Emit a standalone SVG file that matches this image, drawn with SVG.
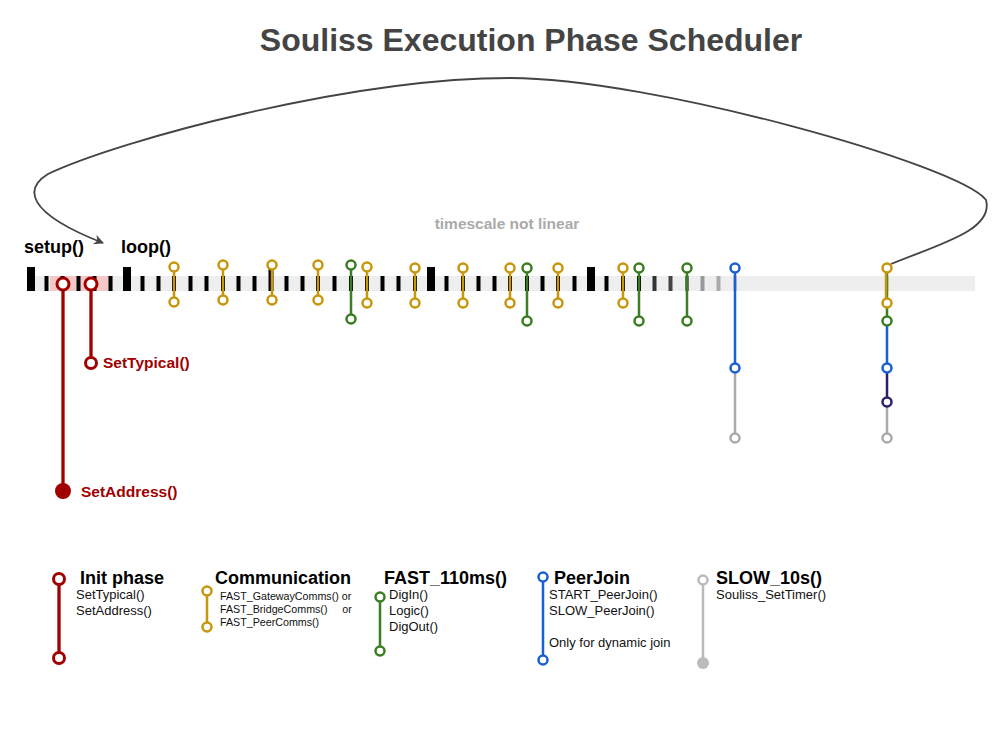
<svg xmlns="http://www.w3.org/2000/svg" width="1004" height="752" viewBox="0 0 1004 752">
<defs>
<marker id="arr" viewBox="0 0 10 10" refX="9" refY="5" markerWidth="10" markerHeight="10" markerUnits="userSpaceOnUse" orient="auto">
<path d="M0,0 L10,5 L0,10 L3,5 Z" fill="#444"/>
</marker>
<style>
text{font-family:"Liberation Sans",Arial,sans-serif}
.title{font-size:32px;font-weight:bold;fill:#444}
.ts{font-size:15.5px;font-weight:bold;fill:#aaa}
.lbl{font-size:18px;font-weight:bold;fill:#000}
.red-lbl{font-size:15.5px;font-weight:bold;fill:#a00000}
.sm{font-size:13px;fill:#111}
.xs{font-size:10.7px;fill:#111}
.t{fill:#000}
.red{stroke:#a00000}
.gold{stroke:#c8960c}
.green{stroke:#3b7d23}
.blue{stroke:#1a5fd4}
.purple{stroke:#2e1f6b}
.grey{stroke:#aaa}
.ln{stroke-width:2.5;fill:none}
.c{fill:#fff;stroke-width:2.5}
</style>
</defs>
<rect width="1004" height="752" fill="#fff"/>
<text class="title" x="531" y="51" text-anchor="middle">Souliss Execution Phase Scheduler</text>
<text class="ts" x="507" y="229" text-anchor="middle">timescale not linear</text>

<g id="timeline">
<rect x="28" y="276" width="947" height="15" fill="#eee"/>
<rect x="50" y="276" width="63" height="15" fill="#f5c8c8"/>
<g class="t">
<rect x="27" y="267" width="8" height="24"/>
<rect x="44.5" y="276" width="4" height="15"/>
<rect x="60.5" y="276" width="4" height="15"/>
<rect x="76.5" y="276" width="4" height="15"/>
<rect x="92.5" y="276" width="4" height="15"/>
<rect x="108.5" y="276" width="4" height="15"/>
<rect x="123" y="267" width="8" height="24"/>
<rect x="140.5" y="276" width="4" height="15"/>
<rect x="156.5" y="276" width="4" height="15"/>
<rect x="172" y="276" width="4" height="15"/>
<rect x="188.5" y="276" width="4" height="15"/>
<rect x="204.5" y="276" width="4" height="15"/>
<rect x="221" y="276" width="4" height="15"/>
<rect x="236.5" y="276" width="4" height="15"/>
<rect x="252.5" y="276" width="4" height="15"/>
<rect x="268.5" y="267" width="5" height="24"/>
<rect x="284.5" y="276" width="4" height="15"/>
<rect x="300.5" y="276" width="4" height="15"/>
<rect x="316" y="276" width="4" height="15"/>
<rect x="332.5" y="276" width="4" height="15"/>
<rect x="349" y="276" width="4" height="15"/>
<rect x="365" y="276" width="4" height="15"/>
<rect x="380.5" y="276" width="4" height="15"/>
<rect x="396.5" y="276" width="4" height="15"/>
<rect x="413" y="276" width="4" height="15"/>
<rect x="427" y="267" width="8" height="24"/>
<rect x="444.5" y="276" width="4" height="15"/>
<rect x="461" y="276" width="4" height="15"/>
<rect x="476.5" y="276" width="4" height="15"/>
<rect x="492.5" y="276" width="4" height="15"/>
<rect x="508" y="276" width="4" height="15"/>
<rect x="525" y="276" width="4" height="15"/>
<rect x="540.5" y="276" width="4" height="15"/>
<rect x="556" y="276" width="4" height="15"/>
<rect x="572.5" y="276" width="4" height="15"/>
<rect x="587" y="267" width="8" height="24"/>
<rect x="604.5" y="276" width="4" height="15"/>
<rect x="621" y="276" width="4" height="15"/>
<rect x="637" y="276" width="4" height="15"/>
</g>
<rect x="652.5" y="276" width="4" height="15" fill="#333"/>
<rect x="668.5" y="276" width="4" height="15" fill="#444"/>
<rect x="685" y="276" width="4" height="15" fill="#777"/>
<rect x="700.5" y="276" width="4" height="15" fill="#999"/>
<rect x="716.5" y="276" width="4" height="15" fill="#aaa"/>
<rect x="733" y="276" width="4" height="15" fill="#ccc"/>
<rect x="885" y="276" width="4" height="15" fill="#ddd"/>
<text class="lbl" x="24" y="253">setup()</text>
<text class="lbl" x="121" y="253">loop()</text>
</g>

<g id="connectors">
<path d="M891,264 C940,244 994,230 986,200 C960,165 650,78 510,78 C350,78 120,140 48,174 C25,188 24,212 103,243" fill="none" stroke="#444" stroke-width="1.8" marker-end="url(#arr)"/>
</g>

<g id="init-phase">
<line x1="63" y1="284" x2="63" y2="491" class="red" stroke-width="3.3"/>
<line x1="91" y1="284" x2="91" y2="363" class="red" stroke-width="3.3"/>
<circle cx="63" cy="284" r="6" class="red" fill="#fff" stroke-width="3"/>
<circle cx="91" cy="284" r="6" class="red" fill="#fff" stroke-width="3"/>
<circle cx="91" cy="363" r="5.5" class="red" fill="#fff" stroke-width="3"/>
<circle cx="63" cy="491" r="8" fill="#a00000"/>
<text class="red-lbl" x="103" y="368">SetTypical()</text>
<text class="red-lbl" x="81" y="497">SetAddress()</text>
</g>

<g id="comm-markers" class="gold">
<line class="ln" x1="174" y1="267" x2="174" y2="302"/><circle class="c" cx="174" cy="267" r="4.5"/><circle class="c" cx="174" cy="302" r="4.5"/>
<line class="ln" x1="223" y1="265" x2="223" y2="300"/><circle class="c" cx="223" cy="265" r="4.5"/><circle class="c" cx="223" cy="300" r="4.5"/>
<line class="ln" x1="272" y1="265" x2="272" y2="300"/><circle class="c" cx="272" cy="265" r="4.5"/><circle class="c" cx="272" cy="300" r="4.5"/>
<line class="ln" x1="318" y1="265" x2="318" y2="300"/><circle class="c" cx="318" cy="265" r="4.5"/><circle class="c" cx="318" cy="300" r="4.5"/>
<line class="ln" x1="367" y1="267" x2="367" y2="303"/><circle class="c" cx="367" cy="267" r="4.5"/><circle class="c" cx="367" cy="303" r="4.5"/>
<line class="ln" x1="415" y1="268" x2="415" y2="303"/><circle class="c" cx="415" cy="268" r="4.5"/><circle class="c" cx="415" cy="303" r="4.5"/>
<line class="ln" x1="463" y1="268" x2="463" y2="303"/><circle class="c" cx="463" cy="268" r="4.5"/><circle class="c" cx="463" cy="303" r="4.5"/>
<line class="ln" x1="510" y1="268" x2="510" y2="303"/><circle class="c" cx="510" cy="268" r="4.5"/><circle class="c" cx="510" cy="303" r="4.5"/>
<line class="ln" x1="558" y1="268" x2="558" y2="303"/><circle class="c" cx="558" cy="268" r="4.5"/><circle class="c" cx="558" cy="303" r="4.5"/>
<line class="ln" x1="623" y1="268" x2="623" y2="303"/><circle class="c" cx="623" cy="268" r="4.5"/><circle class="c" cx="623" cy="303" r="4.5"/>
</g>

<g id="fast-markers" class="green">
<line class="ln" x1="351" y1="265" x2="351" y2="319"/><circle class="c" cx="351" cy="265" r="4.5"/><circle class="c" cx="351" cy="319" r="4.5"/>
<line class="ln" x1="527" y1="268" x2="527" y2="321"/><circle class="c" cx="527" cy="268" r="4.5"/><circle class="c" cx="527" cy="321" r="4.5"/>
<line class="ln" x1="639" y1="268" x2="639" y2="321"/><circle class="c" cx="639" cy="268" r="4.5"/><circle class="c" cx="639" cy="321" r="4.5"/>
<line class="ln" x1="687" y1="268" x2="687" y2="321"/><circle class="c" cx="687" cy="268" r="4.5"/><circle class="c" cx="687" cy="321" r="4.5"/>
</g>

<g id="peerjoin-marker">
<line class="ln grey" x1="735" y1="368" x2="735" y2="438"/>
<line class="ln blue" x1="735" y1="268" x2="735" y2="368"/>
<circle class="c blue" cx="735" cy="268" r="4.5"/>
<circle class="c blue" cx="735" cy="368" r="4.5"/>
<circle class="c grey" cx="735" cy="438" r="4.5"/>
</g>

<g id="full-cycle-marker">
<line class="ln grey" x1="887" y1="402" x2="887" y2="438"/>
<line class="ln purple" x1="887" y1="368" x2="887" y2="402"/>
<line class="ln blue" x1="887" y1="321" x2="887" y2="368"/>
<line class="ln green" x1="887" y1="268" x2="887" y2="321"/>
<line class="ln gold" x1="886" y1="268" x2="886" y2="303"/>
<circle class="c green" cx="887" cy="321" r="4.5"/>
<circle class="c gold" cx="887" cy="303" r="4.5"/>
<circle class="c gold" cx="887" cy="268" r="4.5"/>
<circle class="c blue" cx="887" cy="368" r="4.5"/>
<circle class="c purple" cx="887" cy="402" r="4.5"/>
<circle class="c grey" cx="887" cy="438" r="4.5"/>
</g>

<g id="legend-init">
<line x1="59" y1="579" x2="59" y2="658" class="red" stroke-width="3.3"/>
<circle cx="59" cy="579" r="5.5" class="red" fill="#fff" stroke-width="3"/>
<circle cx="59" cy="658" r="5.5" class="red" fill="#fff" stroke-width="3"/>
<text class="lbl" x="80" y="584">Init phase</text>
<text class="sm" x="76" y="599">SetTypical()</text>
<text class="sm" x="76" y="615">SetAddress()</text>
</g>

<g id="legend-comm" class="gold">
<line class="ln" x1="207" y1="591" x2="207" y2="627"/>
<circle class="c" cx="207" cy="591" r="4.5"/>
<circle class="c" cx="207" cy="627" r="4.5"/>
<text class="lbl" x="215" y="584" stroke="none">Communication</text>
<text class="xs" x="220" y="600" stroke="none">FAST_GatewayComms() or</text>
<text class="xs" x="220" y="613" stroke="none" xml:space="preserve">FAST_BridgeComms()     or</text>
<text class="xs" x="220" y="626" stroke="none">FAST_PeerComms()</text>
</g>

<g id="legend-fast" class="green">
<line class="ln" x1="380" y1="597" x2="380" y2="651"/>
<circle class="c" cx="380" cy="597" r="4.5"/>
<circle class="c" cx="380" cy="651" r="4.5"/>
<text class="lbl" x="384" y="584" stroke="none">FAST_110ms()</text>
<text class="sm" x="389" y="599" stroke="none">DigIn()</text>
<text class="sm" x="389" y="615" stroke="none">Logic()</text>
<text class="sm" x="389" y="631" stroke="none">DigOut()</text>
</g>

<g id="legend-peerjoin" class="blue">
<line class="ln" x1="543" y1="577" x2="543" y2="660"/>
<circle class="c" cx="543" cy="577" r="4.5"/>
<circle class="c" cx="543" cy="660" r="4.5"/>
<text class="lbl" x="554" y="584" stroke="none">PeerJoin</text>
<text class="sm" x="549" y="599" stroke="none">START_PeerJoin()</text>
<text class="sm" x="549" y="615" stroke="none">SLOW_PeerJoin()</text>
<text class="sm" x="549" y="647" stroke="none">Only for dynamic join</text>
</g>

<g id="legend-slow">
<line x1="703" y1="580" x2="703" y2="663" stroke="#bbb" stroke-width="2.5"/>
<circle cx="703" cy="580" r="4.5" fill="#fff" stroke="#bbb" stroke-width="2.5"/>
<circle cx="703" cy="663" r="6" fill="#bbb"/>
<text class="lbl" x="716" y="584">SLOW_10s()</text>
<text class="sm" x="716" y="599">Souliss_SetTimer()</text>
</g>
</svg>
